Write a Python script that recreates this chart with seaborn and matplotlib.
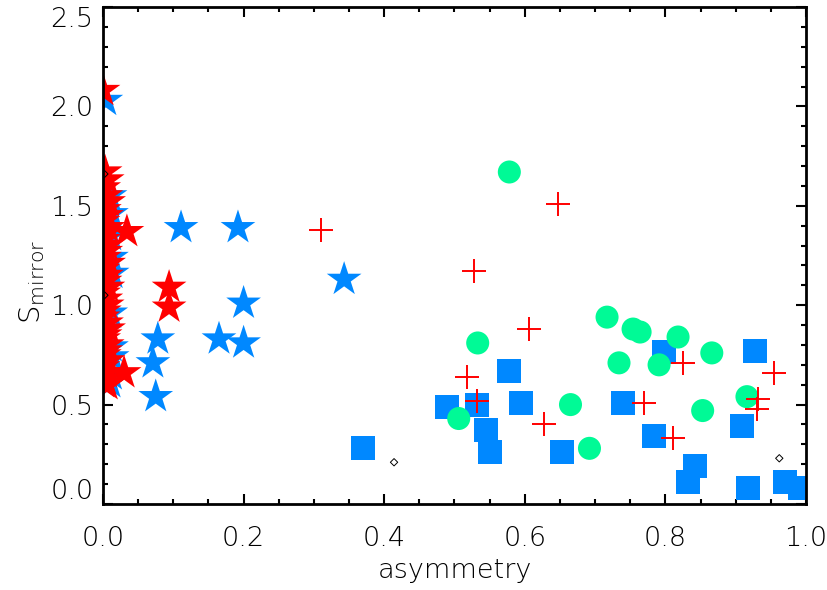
import numpy as np
import pandas as pd
import matplotlib
matplotlib.use("Agg")
import matplotlib.pyplot as plt
from matplotlib.ticker import MultipleLocator
import seaborn as sns

# --- star-forming column near zero asymmetry (red, drawn on top) ---
red_col_x = [0.000, 0.003, 0.006, 0.001, 0.004, 0.008, 0.002, 0.005, 0.000, 0.007,
             0.003, 0.001, 0.006, 0.004, 0.002, 0.008, 0.000, 0.005, 0.003, 0.007,
             0.001, 0.004, 0.006, 0.002, 0.000, 0.005, 0.008, 0.003, 0.001, 0.006,
             0.004, 0.002, 0.007, 0.000, 0.005, 0.003, 0.001, 0.006]
red_col_y = [2.08, 1.67, 1.63, 1.59, 1.55, 1.52, 1.48, 1.45, 1.42, 1.39,
             1.36, 1.33, 1.30, 1.27, 1.24, 1.21, 1.18, 1.15, 1.12, 1.09,
             1.06, 1.03, 1.00, 0.97, 0.94, 0.91, 0.88, 0.85, 0.83, 0.80,
             0.77, 0.75, 0.72, 0.69, 0.66, 0.63, 0.61, 0.60]
# red stars away from the axis
red_star_x = [0.034, 0.094, 0.094, 0.030]
red_star_y = [1.37, 1.09, 0.99, 0.66]

# --- blue stars: column near zero plus scattered points ---
blue_col_x = [0.004, 0.010, 0.012, 0.011, 0.012, 0.013, 0.011, 0.012, 0.013, 0.012, 0.010]
blue_col_y = [2.03, 1.55, 1.46, 1.35, 1.24, 1.16, 0.96, 0.79, 0.74, 0.65, 0.61]
blue_star_x = [0.111, 0.192, 0.343, 0.200, 0.078, 0.165, 0.200, 0.071, 0.075]
blue_star_y = [1.39, 1.39, 1.13, 1.01, 0.83, 0.83, 0.81, 0.71, 0.54]

# --- blue squares ---
square_x = [0.370, 0.489, 0.532, 0.545, 0.550, 0.578, 0.594, 0.653, 0.740, 0.784,
            0.798, 0.832, 0.842, 0.909, 0.927, 0.917, 0.970, 0.991]
square_y = [0.28, 0.49, 0.50, 0.37, 0.26, 0.67, 0.51, 0.26, 0.51, 0.34,
            0.765, 0.11, 0.19, 0.39, 0.77, 0.08, 0.11, 0.08]

# --- green circles ---
circle_x = [0.578, 0.533, 0.717, 0.754, 0.764, 0.818, 0.734, 0.791, 0.866, 0.665,
            0.506, 0.692, 0.853, 0.916]
circle_y = [1.67, 0.81, 0.94, 0.88, 0.865, 0.84, 0.71, 0.70, 0.76, 0.50,
            0.43, 0.28, 0.47, 0.54]

# --- red crosses ---
cross_x = [0.310, 0.528, 0.647, 0.606, 0.518, 0.532, 0.627, 0.770, 0.811, 0.825,
           0.932, 0.930, 0.955]
cross_y = [1.38, 1.17, 1.51, 0.88, 0.64, 0.52, 0.40, 0.51, 0.33, 0.71,
           0.53, 0.48, 0.66]

# --- small open diamonds ---
diamond_x = [0.414, 0.962, 0.002, 0.002]
diamond_y = [0.21, 0.23, 1.66, 1.05]

xticks = [0.0, 0.2, 0.4, 0.6, 0.8, 1.0]
yticks = [0.0, 0.5, 1.0, 1.5, 2.0, 2.5]

RED = "#ff0000"
BLUE = "#0088ff"
GREEN = "#00fa96"
THIN = 200

sns.set_theme(style="ticks")
plt.rcParams["font.family"] = ["DejaVu Sans"]
plt.rcParams["font.weight"] = THIN
plt.rcParams["axes.labelweight"] = THIN
plt.rcParams["mathtext.fontset"] = "custom"
plt.rcParams["mathtext.rm"] = "DejaVu Sans:extralight"
plt.rcParams["mathtext.it"] = "DejaVu Sans:extralight"
plt.rcParams["mathtext.default"] = "rm"

fig = plt.figure(figsize=(8.28, 5.90), dpi=100)
ax = fig.add_axes([103 / 828, 1 - 504 / 590, 703 / 828, 497 / 590])

def frame(xs, ys):
    return pd.DataFrame({"x": xs, "y": ys})

STAR_S = 690
sns.scatterplot(data=frame(blue_col_x + blue_star_x, blue_col_y + blue_star_y),
                x="x", y="y", marker="*", s=STAR_S, color=BLUE,
                linewidth=0, edgecolor="none", ax=ax, zorder=2)
sns.scatterplot(data=frame(red_col_x + red_star_x, red_col_y + red_star_y),
                x="x", y="y", marker="*", s=STAR_S, color=RED,
                linewidth=0, edgecolor="none", ax=ax, zorder=3)
sns.scatterplot(data=frame(square_x, square_y), x="x", y="y", marker="s",
                s=300, color=BLUE, linewidth=0, edgecolor="none", ax=ax, zorder=4)
sns.scatterplot(data=frame(circle_x, circle_y), x="x", y="y", marker="o",
                s=275, color=GREEN, linewidth=0, edgecolor="none", ax=ax, zorder=5)
sns.scatterplot(data=frame(cross_x, cross_y), x="x", y="y", marker="+",
                s=280, color=RED, linewidth=1.4, ax=ax, zorder=6)
sns.scatterplot(data=frame(diamond_x, diamond_y), x="x", y="y", marker="D",
                s=14, facecolor="none", edgecolor="black", linewidth=0.7,
                ax=ax, zorder=7)

ax.set_xlim(0, 1)
ax.set_ylim(0, 2.5)
ax.set_xticks(xticks)
ax.set_xticklabels([f"{v:.1f}" for v in xticks], fontweight=THIN)
ax.set_yticks(yticks)
ax.set_yticklabels([f"{v:.1f}" for v in yticks], fontweight=THIN)
ax.xaxis.set_minor_locator(MultipleLocator(0.05))
ax.yaxis.set_minor_locator(MultipleLocator(0.1))

for side in ax.spines.values():
    side.set_visible(True)
    side.set_linewidth(2.0)
    side.set_color("black")
    side.set_zorder(10)

ax.tick_params(which="both", direction="in", top=True, right=True,
               color="black", width=1.5, labelsize=19.5, labelcolor="black")
ax.tick_params(which="major", length=7.5)
ax.tick_params(which="minor", length=3.8)
ax.tick_params(axis="x", which="major", pad=16)
ax.tick_params(axis="y", which="major", pad=7)

ylabs = ax.get_yticklabels()
ylabs[0].set_verticalalignment("bottom")
ylabs[-1].set_verticalalignment("top")

ax.set_xlabel("asymmetry", fontsize=19.5, color="black", fontweight=THIN, labelpad=5)
ax.set_ylabel(r"$\mathrm{S}_{\mathrm{mirror}}$", fontsize=21, color="black")
ax.yaxis.set_label_coords(-0.079, 0.447)

fig.savefig("out.png", dpi=100)
